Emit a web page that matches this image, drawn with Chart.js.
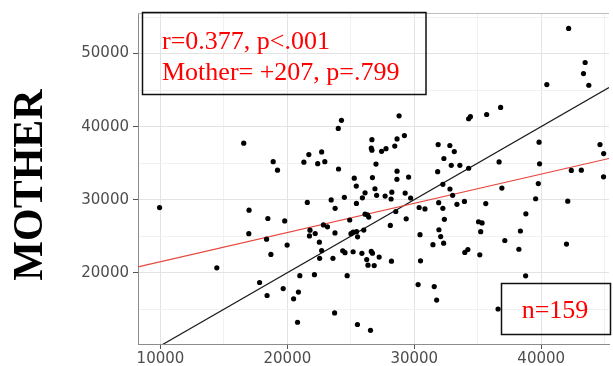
<!DOCTYPE html>
<html>
<head>
<meta charset="utf-8">
<script src="https://cdn.jsdelivr.net/npm/chart.js@4/dist/chart.umd.min.js"></script>
<style>
  body { margin: 0; background: #fff; }
</style>
</head>
<body>
<canvas id="chart" width="613" height="366"></canvas>
<script>
// x value of each subject
const xVals = [
  9930, 14440, 16560, 16960, 16980, 17810, 18360, 18400, 18460, 18700,
  18880, 19220, 19670, 19790, 19980, 20490, 20800, 20870, 20980, 21300,
  21570, 21690, 21780, 21740, 22190, 22130, 22390, 22520, 22700, 22540,
  22700, 22950, 22840, 23160, 23450, 23760, 23750, 23590, 23720, 24010,
  24260, 24030, 24490, 24360, 24540, 24710, 24910, 25010, 25180, 25450,
  25530, 25270, 25430, 25440, 25180, 25520, 25910, 25870, 26020, 26120,
  26120, 26310, 26410, 26250, 26350, 26550, 26610, 26660, 26660, 26700,
  26900, 26980, 27030, 26610, 26700, 27230, 26840, 27420, 27770, 27700,
  28110, 28200, 28230, 28170, 28460, 28640, 28640, 28630, 28540, 28800,
  29220, 29280, 29550, 29710, 29360, 30380, 30840, 30450, 30490, 30300,
  31570, 31760, 31470, 31880, 32800, 33150, 32330, 32910, 31840, 32250,
  32810, 33020, 31920, 32250, 32370, 31940, 32080, 32310, 33360, 33590,
  33950, 34280, 34280, 34420, 35700, 36800, 36680, 40440, 42160, 43460,
  43330, 43750, 39830, 39870, 39770, 42370, 43160, 44630, 44920, 44910,
  36900, 39560, 42090, 35630, 38790, 35060, 35340, 35230, 38360, 37130,
  38240, 41990, 33980, 34220, 35160, 38770, 36600
];

// MOTHER value of each subject
const motherVals = [
  28920, 20670, 37740, 25350, 28560, 18660, 24590, 16880, 27420, 22510,
  35200, 34040, 17830, 27090, 23780, 16430, 13220, 17350, 19600, 35130,
  29630, 36180, 25820, 25040, 25370, 19730, 34930, 24180, 23030, 21970,
  36540, 35200, 26550, 26280, 29960, 28820, 25450, 21970, 14490, 39760,
  40860, 34200, 30320, 23010, 22740, 19600, 27220, 25350, 25550, 25620,
  24910, 32940, 31860, 29490, 22870, 12910, 30250, 22650, 25840, 30940,
  28020, 27930, 27620, 21800, 21030, 12110, 37070, 36780, 38210, 33030,
  31500, 34880, 30590, 22910, 22670, 22140, 20980, 36620, 36980, 30490,
  26480, 21580, 31030, 30090, 37340, 38320, 33900, 32790, 28380, 41480,
  38780, 30900, 33100, 30230, 27380, 28930, 28730, 25210, 21630, 18370,
  18100, 16260, 23840, 37550, 37420, 36580, 35640, 34710, 33840, 32100,
  31460, 30600, 29590, 28820, 27310, 25880, 24950, 24050, 29360, 34710,
  29760, 34300, 41080, 41360, 41660, 42630, 35170, 45760, 53450, 48780,
  47270, 45670, 37870, 34910, 32210, 34010, 34040, 37550, 36310, 33130,
  31590, 30130, 29790, 29470, 28060, 26980, 26820, 25620, 25710, 24410,
  23210, 23920, 22780, 23180, 22450, 19570, 15030
];

// axis ranges and grid ticks
const xRange = [8230, 45340];
const yRange = [10240, 55560];
const xGrid = [10000, 15000, 20000, 25000, 30000, 35000, 40000, 45000];
const yGrid = [15000, 20000, 25000, 30000, 35000, 40000, 45000, 50000, 55000];

// identity line (y = x) and red fitted line, end points
const identityX = [8230, 45340];
const identityY = [8230, 45340];
const fitX = [8230, 45340];
const fitY = [20800, 35640];

const statLines = ['r=0.377, p<.001', 'Mother= +207, p=.799'];
const nLabel = 'n=159';
const yTitle = 'MOTHER';

const zip = (xs, ys) => xs.map((x, i) => ({ x: x, y: ys[i] }));
const isMajor = (v) => v % 10000 === 0;

const decorations = {
  id: 'decorations',
  beforeDatasetsDraw(chart) {
    const { ctx, chartArea: a } = chart;
    ctx.save();
    // top edge of the panel
    ctx.strokeStyle = '#bdbdbd';
    ctx.lineWidth = 1;
    ctx.beginPath();
    ctx.moveTo(a.left, a.top + 0.5);
    ctx.lineTo(a.right, a.top + 0.5);
    ctx.stroke();

    // text boxes
    ctx.strokeStyle = '#111';
    ctx.lineWidth = 1.5;
    ctx.strokeRect(142.5, 12.5, 283.5, 82);
    ctx.strokeRect(501.5, 283.5, 109, 51);

    ctx.fillStyle = '#ff0000';
    ctx.font = '26px "Liberation Serif", "Times New Roman", serif';
    ctx.textAlign = 'left';
    ctx.textBaseline = 'alphabetic';
    ctx.fillText(statLines[0], 162, 49);
    ctx.fillText(statLines[1], 162, 80);
    ctx.textAlign = 'center';
    ctx.fillText(nLabel, 555, 318);
    ctx.restore();
  },
  afterDraw(chart) {
    const ctx = chart.ctx;
    ctx.save();
    ctx.translate(42, 185);
    ctx.rotate(-Math.PI / 2);
    ctx.fillStyle = '#000';
    ctx.font = 'bold 42px "Liberation Serif", "Times New Roman", serif';
    ctx.textAlign = 'center';
    ctx.textBaseline = 'alphabetic';
    ctx.fillText(yTitle, 0, 0);
    ctx.restore();
  }
};

const tickFont = { family: '"DejaVu Sans", Arial, sans-serif', size: 15 };

window.onload = () => {
  let ctx = document.getElementById('chart').getContext('2d');

  let myChart = new Chart(ctx, {
    type: 'scatter',
    data: {
      datasets: [
        {
          data: zip(xVals, motherVals),
          backgroundColor: '#000',
          borderWidth: 0,
          pointRadius: 2.6,
          order: 0
        },
        {
          data: zip(fitX, fitY),
          showLine: true,
          borderColor: '#e8453c',
          borderWidth: 1.2,
          pointRadius: 0,
          order: 1
        },
        {
          data: zip(identityX, identityY),
          showLine: true,
          borderColor: '#1a1a1a',
          borderWidth: 1.2,
          pointRadius: 0,
          order: 2
        }
      ]
    },
    options: {
      responsive: false,
      animation: false,
      devicePixelRatio: 1,
      layout: { padding: { left: 0, top: 5, right: 0, bottom: 0 } },
      plugins: {
        legend: { display: false },
        tooltip: { enabled: false }
      },
      scales: {
        x: {
          type: 'linear',
          min: xRange[0],
          max: xRange[1],
          afterBuildTicks: (s) => { s.ticks = xGrid.map(v => ({ value: v })); },
          afterFit: (s) => { s.height = 22; },
          grid: {
            color: (c) => isMajor(c.tick.value) ? '#e3e3e3' : '#f1f1f1',
            tickColor: (c) => isMajor(c.tick.value) ? '#555' : 'rgba(0,0,0,0)',
            tickLength: 5,
            lineWidth: 1
          },
          border: { color: '#8c8c8c', width: 1 },
          ticks: {
            color: '#4d4d4d',
            font: tickFont,
            padding: 1,
            maxRotation: 0,
            autoSkip: false,
            callback: (v) => isMajor(v) ? String(v) : ''
          }
        },
        y: {
          type: 'linear',
          min: yRange[0],
          max: yRange[1],
          afterBuildTicks: (s) => { s.ticks = yGrid.map(v => ({ value: v })); },
          afterFit: (s) => { s.width = 138; },
          grid: {
            color: (c) => isMajor(c.tick.value) ? '#e3e3e3' : '#f1f1f1',
            tickColor: (c) => isMajor(c.tick.value) ? '#555' : 'rgba(0,0,0,0)',
            tickLength: 5,
            lineWidth: 1
          },
          border: { color: '#8c8c8c', width: 1 },
          ticks: {
            color: '#4d4d4d',
            font: tickFont,
            padding: 4,
            autoSkip: false,
            callback: (v) => isMajor(v) ? String(v) : ''
          }
        }
      }
    },
    plugins: [decorations]
  });
};
</script>
</body>
</html>
